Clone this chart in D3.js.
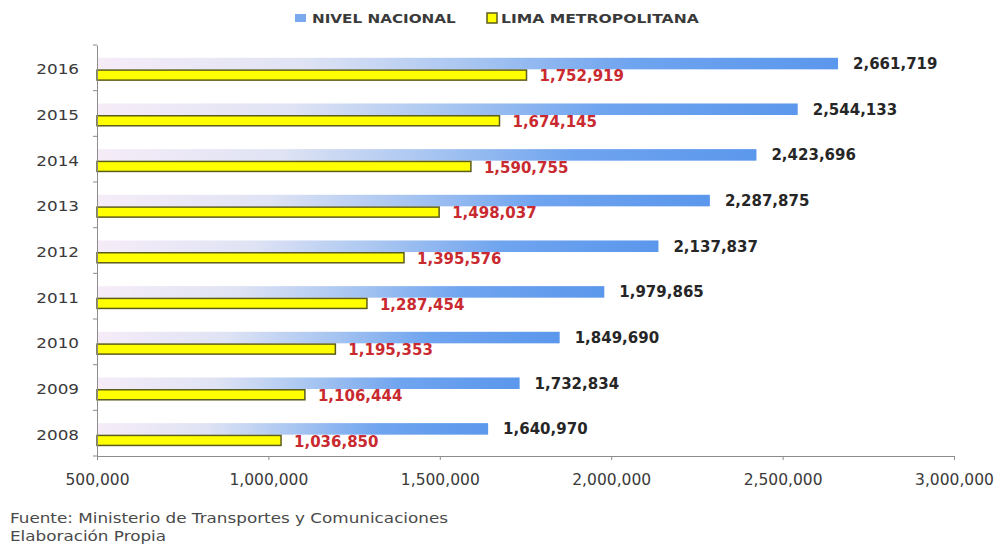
<!DOCTYPE html>
<html>
<head>
<meta charset="utf-8">
<script src="https://cdn.jsdelivr.net/npm/d3@7"></script>
<style>
  html, body { margin: 0; padding: 0; background: #fff; }
  svg { display: block; }
  text { font-family: "DejaVu Sans", Verdana, sans-serif; }
</style>
</head>
<body>
<svg id="chart" width="1002" height="547"></svg>
<script>
// Parque automotor: nivel nacional vs Lima Metropolitana, 2008-2016
const years = ["2016", "2015", "2014", "2013", "2012", "2011", "2010", "2009", "2008"];
const nacional = [2661719, 2544133, 2423696, 2287875, 2137837, 1979865, 1849690, 1732834, 1640970];
const lima = [1752919, 1674145, 1590755, 1498037, 1395576, 1287454, 1195353, 1106444, 1036850];
const xTicks = [500000, 1000000, 1500000, 2000000, 2500000, 3000000];
const seriesNames = ["NIVEL NACIONAL", "LIMA METROPOLITANA"];
const sourceLines = ["Fuente: Ministerio de Transportes y Comunicaciones", "Elaboración Propia"];

const svg = d3.select("#chart");
const fmt = d3.format(",");
const wide = 1.2; // horizontal stretch applied to the lighter text

const plot = { left: 97, right: 954, top: 45, bottom: 456 };

const x = d3.scaleLinear().domain([500000, 3000000]).range([plot.left, plot.right]);
const y = d3.scaleBand().domain(years).range([plot.top, plot.bottom]).padding(0);
const sub = d3.scaleBand().domain(["nacional", "lima"]).range([1.5, y.bandwidth() + 1.5])
  .paddingInner(0).paddingOuter(0.98);

// gradient for the national series
const defs = svg.append("defs");
const grad = defs.append("linearGradient").attr("id", "blueGrad")
  .attr("x1", "0").attr("x2", "1").attr("y1", "0").attr("y2", "0");
[[0, "#f6ecf8"], [0.28, "#dfe3f4"], [0.5, "#a9c6f1"], [0.72, "#6fa4ef"], [1, "#5b97ec"]]
  .forEach(([o, c]) => grad.append("stop").attr("offset", o).attr("stop-color", c));

const rows = years.map((yr, i) => ({ year: yr, nacional: nacional[i], lima: lima[i] }));

// bars: national
svg.append("g").selectAll("rect").data(rows).join("rect")
  .attr("x", x(500000))
  .attr("y", d => y(d.year) + sub("nacional"))
  .attr("width", d => x(d.nacional) - x(500000))
  .attr("height", sub.bandwidth())
  .attr("fill", "url(#blueGrad)");

// bars: Lima
svg.append("g").selectAll("rect").data(rows).join("rect")
  .attr("x", x(500000))
  .attr("y", d => y(d.year) + sub("lima") + 0.75)
  .attr("width", d => x(d.lima) - x(500000))
  .attr("height", sub.bandwidth() - 1.5)
  .attr("fill", "#ffff00")
  .attr("stroke", "#5c5c1c")
  .attr("stroke-width", 1.5);

// value labels
svg.append("g").selectAll("text").data(rows).join("text")
  .attr("x", d => x(d.nacional) + 15)
  .attr("y", d => y(d.year) + sub("nacional") + sub.bandwidth() / 2)
  .attr("dy", "0.36em")
  .attr("font-size", 15).attr("font-weight", "bold").attr("fill", "#262626")
  .text(d => fmt(d.nacional));

svg.append("g").selectAll("text").data(rows).join("text")
  .attr("x", d => x(d.lima) + 13)
  .attr("y", d => y(d.year) + sub("lima") + sub.bandwidth() / 2 + 1)
  .attr("dy", "0.36em")
  .attr("font-size", 15).attr("font-weight", "bold").attr("fill", "#c82a30")
  .text(d => fmt(d.lima));

// x axis
const xAxis = svg.append("g").attr("transform", `translate(0,${plot.bottom})`)
  .call(d3.axisBottom(x).tickValues(xTicks).tickSize(4).tickPadding(14).tickFormat(fmt));
xAxis.select(".domain").attr("stroke", "#8c8c8c");
xAxis.selectAll(".tick line").attr("stroke", "#8c8c8c");
xAxis.selectAll(".tick text").attr("font-size", 15.5).attr("fill", "#3a3a3a")
  .attr("font-family", "'DejaVu Sans', Verdana, sans-serif");

// y axis: labels centred on each band, ticks at band boundaries
const yAxis = svg.append("g").attr("transform", `translate(${plot.left},0)`)
  .call(d3.axisLeft(y).tickSize(0).tickPadding(15));
yAxis.select(".domain").attr("stroke", "#8c8c8c");
yAxis.selectAll(".tick text").attr("font-size", 14).attr("fill", "#3a3a3a")
  .attr("font-family", "'DejaVu Sans', Verdana, sans-serif")
  .attr("transform", `translate(0,2) scale(${wide},1)`);
const bounds = years.map(d => y(d)).concat([y.range()[1]]);
yAxis.selectAll(".bound").data(bounds).join("line").attr("class", "bound")
  .attr("x1", -4).attr("x2", 0).attr("y1", d => d).attr("y2", d => d)
  .attr("stroke", "#8c8c8c");

// legend
const legend = svg.append("g").attr("font-size", 13).attr("font-weight", "bold").attr("fill", "#3a3a3a");
legend.append("rect").attr("x", 295).attr("y", 14).attr("width", 11).attr("height", 8)
  .attr("fill", "#7aa9ee");
legend.append("text").attr("transform", "translate(312,23) scale(1.17,1)").text(seriesNames[0]);
legend.append("rect").attr("x", 487).attr("y", 13).attr("width", 10).attr("height", 10)
  .attr("fill", "#ffff00").attr("stroke", "#5c5c1c").attr("stroke-width", 1.5);
legend.append("text").attr("transform", "translate(501,23) scale(1.2,1)").text(seriesNames[1]);

// source note
svg.append("g").attr("font-size", 14).attr("fill", "#4a4a4a")
  .selectAll("text").data(sourceLines).join("text")
  .attr("transform", (d, i) => `translate(10,${523 + i * 18}) scale(${wide},1)`)
  .text(d => d);
</script>
</body>
</html>
